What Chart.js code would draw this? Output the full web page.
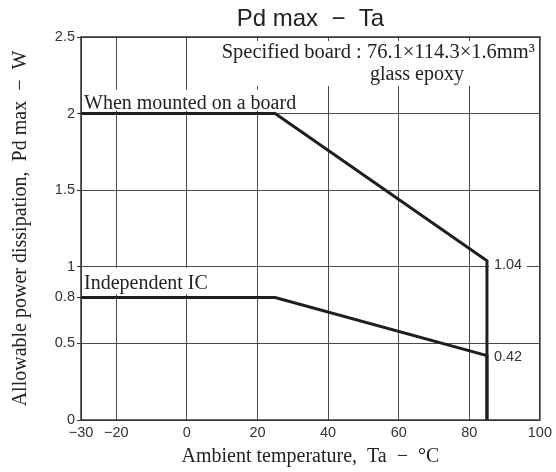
<!DOCTYPE html>
<html>
<head>
<meta charset="utf-8">
<script src="https://cdn.jsdelivr.net/npm/chart.js@4/dist/chart.umd.min.js"></script>
<style>
  html, body { margin: 0; padding: 0; background: #fff; }
  #wrap { width: 556px; height: 472px; }
</style>
</head>
<body>
<div id="wrap"><canvas id="grafico" width="556" height="472"></canvas></div>
<script>
// Datos de las curvas (Ta en °C, Pd max en W)
const tempPlaca = [-30, 25, 85, 85];
const potPlaca = [2, 2, 1.04, 0];
const tempIC = [-30, 25, 85, 85];
const potIC = [0.8, 0.8, 0.42, 0];

// Marcas de los ejes
const ticksX = [-30, -20, 0, 20, 40, 60, 80, 100];
const ticksY = [0, 0.5, 0.8, 1, 1.5, 2, 2.5];
const sinRejillaY = [0.8];

// Textos
const titulo = 'Pd max  \u2212  Ta';
const tituloX = 'Ambient temperature,  Ta  \u2212  \u00B0C';
const tituloY = 'Allowable power dissipation,  Pd max  \u2212  W';
const notaPlaca = 'Specified board : 76.1\u00D7114.3\u00D71.6mm\u00B3';
const notaVidrio = 'glass epoxy';
const etiquetaPlaca = 'When mounted on a board';
const etiquetaIC = 'Independent IC';

const SERIF = '"Liberation Serif", "Times New Roman", serif';
const SANS = '"Liberation Sans", Arial, sans-serif';
const NEGRO = '#1e1e1e';
const REJILLA = '#4a4a4a';

function puntos(xs, ys) {
  return xs.map((x, i) => ({ x: x, y: ys[i] }));
}

function signo(v) {
  return v < 0 ? '\u2212' + Math.abs(v) : String(v);
}

// Cajas blancas con texto sobre la rejilla
const notas = {
  id: 'notas',
  afterLayout(chart) {
    // centrar el título sobre el área del gráfico
    const t = chart.titleBlock;
    if (t) {
      t.left = chart.chartArea.left;
      t.right = chart.chartArea.right;
      t.width = t.right - t.left;
    }
  },
  beforeDatasetsDraw(chart) {
    const c = chart.ctx;
    const sx = chart.scales.x, sy = chart.scales.y;
    const a = chart.chartArea;
    c.save();
    c.fillStyle = '#fff';
    // caja de la placa especificada
    c.fillRect(215, a.top + 4, a.right - 216, 45);
    // caja "When mounted"
    c.fillRect(a.left + 1, sy.getPixelForValue(2) - 24, 220, 21);
    // caja "Independent IC"
    c.fillRect(a.left + 1, sy.getPixelForValue(1) + 1, 133, sy.getPixelForValue(0.8) - sy.getPixelForValue(1) - 4);
    // cajas de los valores finales
    const xf = sx.getPixelForValue(tempPlaca[2]);
    c.fillRect(xf + 2, sy.getPixelForValue(potPlaca[2]) - 5, 38, 16);
    c.fillRect(xf + 2, sy.getPixelForValue(potIC[2]) - 7, 38, 16);

    c.fillStyle = '#222';
    c.textBaseline = 'alphabetic';
    c.font = '20.5px ' + SERIF;
    c.textAlign = 'right';
    c.fillText(notaPlaca, a.right - 5, a.top + 21);
    c.font = '20px ' + SERIF;
    c.textAlign = 'center';
    c.fillText(notaVidrio, 417, a.top + 43);
    c.textAlign = 'left';
    c.fillText(etiquetaPlaca, a.left + 3, sy.getPixelForValue(2) - 5);
    c.fillText(etiquetaIC, a.left + 3, sy.getPixelForValue(0.8) - 8);

    c.font = '14.5px ' + SANS;
    c.fillStyle = '#333';
    c.textBaseline = 'middle';
    c.fillText(String(potPlaca[2]), xf + 7, sy.getPixelForValue(potPlaca[2]) + 4);
    c.fillText(String(potIC[2]), xf + 7, sy.getPixelForValue(potIC[2]) + 1);
    c.restore();
  },
  afterDatasetsDraw(chart) {
    const a = chart.chartArea;
    const c = chart.ctx;
    c.save();
    c.strokeStyle = '#333';
    c.lineWidth = 1.5;
    c.strokeRect(a.left, a.top, a.right - a.left, a.bottom - a.top);
    c.restore();
  }
};

const ctx = document.getElementById('grafico').getContext('2d');
const grafico = new Chart(ctx, {
  type: 'scatter',
  data: {
    datasets: [
      {
        label: etiquetaPlaca,
        data: puntos(tempPlaca, potPlaca),
        showLine: true,
        borderColor: NEGRO,
        borderWidth: 3,
        pointRadius: 0,
        borderJoinStyle: 'miter'
      },
      {
        label: etiquetaIC,
        data: puntos(tempIC, potIC),
        showLine: true,
        borderColor: NEGRO,
        borderWidth: 3,
        pointRadius: 0,
        borderJoinStyle: 'miter'
      }
    ]
  },
  options: {
    responsive: false,
    animation: false,
    layout: { padding: { left: 0, right: 13, top: 0, bottom: 0 } },
    plugins: {
      legend: { display: false },
      tooltip: { enabled: false },
      title: {
        display: true,
        text: titulo,
        color: '#222',
        font: { family: SANS, size: 24, weight: 'normal', lineHeight: 1.2 },
        padding: { top: 5, bottom: 3.2 },
        align: 'center'
      }
    },
    scales: {
      x: {
        type: 'linear',
        min: -30,
        max: 100,
        afterBuildTicks: s => { s.ticks = ticksX.map(v => ({ value: v })); },
        afterFit: s => { s.height = 52; },
        ticks: {
          color: '#333',
          font: { family: SANS, size: 14.5 },
          padding: 4,
          maxRotation: 0,
          autoSkip: false,
          callback: v => signo(v)
        },
        grid: { color: REJILLA, lineWidth: 1, drawTicks: false },
        border: { display: false },
        title: {
          display: true,
          text: tituloX,
          color: '#222',
          font: { family: SERIF, size: 20, lineHeight: 1.2 },
          padding: { top: 0, bottom: 3 }
        }
      },
      y: {
        type: 'linear',
        min: 0,
        max: 2.5,
        afterBuildTicks: s => { s.ticks = ticksY.map(v => ({ value: v })); },
        afterFit: s => { s.width = 81; },
        ticks: {
          color: '#333',
          font: { family: SANS, size: 14.5 },
          padding: 2,
          autoSkip: false,
          callback: v => String(v)
        },
        grid: {
          color: c => (c.tick && sinRejillaY.includes(c.tick.value)) ? 'rgba(0,0,0,0)' : REJILLA,
          tickColor: '#333',
          lineWidth: 1,
          drawTicks: true,
          tickLength: 4
        },
        border: { display: false },
        title: {
          display: true,
          text: tituloY,
          color: '#222',
          font: { family: SERIF, size: 20, lineHeight: 1.2 },
          padding: { top: 9, bottom: 0 }
        }
      }
    }
  },
  plugins: [notas]
});
</script>
</body>
</html>
